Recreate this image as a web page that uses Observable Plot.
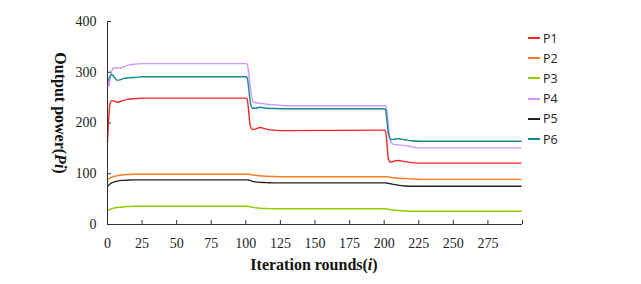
<!DOCTYPE html>
<html>
<head>
<meta charset="utf-8">
<script src="https://cdn.jsdelivr.net/npm/d3@7"></script>
<script src="https://cdn.jsdelivr.net/npm/@observablehq/plot@0.6"></script>
<style>
  html, body { margin: 0; padding: 0; background: #fff; }
  #wrap { position: relative; width: 641px; height: 284px; overflow: hidden; }
  #ylabel { position: absolute; left: 60px; top: 113px; transform: translate(-50%, -50%) rotate(90deg);
    font-family: "Liberation Serif", serif; font-weight: bold; font-size: 16px; white-space: nowrap; color: #111; }
  #xlabel { position: absolute; left: 314px; top: 265px; transform: translate(-50%, -50%);
    font-family: "Liberation Serif", serif; font-weight: bold; font-size: 16px; white-space: nowrap; color: #111; }
  #legend { position: absolute; left: 528px; top: 28px; font-family: "Open Sans", sans-serif; font-size: 12.5px; color: #222; }
  .item { display: flex; align-items: center; height: 20.2px; }
  .sw { width: 12px; height: 2px; margin-right: 3px; }
</style>
</head>
<body>
<div id="wrap">
  <div id="chart"></div>
  <div id="ylabel">Output power(<i>Pi</i>)</div>
  <div id="xlabel">Iteration rounds(<i>i</i>)</div>
  <div id="legend"></div>
</div>
<script>
const seriesNames = ["P1", "P2", "P3", "P4", "P5", "P6"];
const seriesColors = ["#ff2222", "#ff7a1e", "#8fcc00", "#cc99ff", "#222222", "#138a8a"];
const xTicks = [0, 25, 50, 75, 100, 125, 150, 175, 200, 225, 250, 275, 300];
const xTickLabels = [0, 25, 50, 75, 100, 125, 150, 175, 200, 225, 250, 275];
const yTicks = [0, 100, 200, 300, 400];

const iterations = [0, 1, 2, 3, 5, 7, 9, 12, 15, 20, 25,
  100, 101, 102, 103, 104, 105, 107, 110, 115, 120, 130,
  200, 201, 202, 203, 204, 205, 207, 210, 215, 220, 225, 299];

const P1 = [162, 215, 240, 244, 243, 241, 242, 245, 247, 248, 249,
  249, 247, 225, 198, 189, 187, 188, 191, 188, 186, 185,
  186, 184, 160, 130, 124, 123, 125, 126, 124, 122, 121, 121];
const P2 = [88, 90, 92, 93, 95, 96, 97, 98, 98.5, 99, 99,
  99, 99, 99, 98.5, 98, 97.5, 97, 96, 95, 94.5, 94,
  94, 94, 94, 93.5, 93, 92.5, 92, 91, 90.5, 90, 89, 89];
const P3 = [28, 29, 30, 31, 32.5, 33.5, 34, 35, 35.5, 36, 36,
  36, 36, 35.5, 35, 34.5, 34, 33, 32, 31.5, 31, 31,
  31, 31, 30.5, 30, 29.5, 29, 28.5, 27.5, 26.5, 26, 26, 26];
const P4 = [290, 272, 290, 303, 309, 309, 308, 311, 314, 316, 317,
  317, 316, 300, 275, 255, 243, 240, 239, 237, 236, 234,
  234, 234, 225, 195, 172, 162, 158, 157, 155.5, 153, 151, 151];
const P5 = [75, 78, 80, 82, 84, 85.5, 86.5, 87, 87.5, 88, 88,
  88, 88, 87.5, 87, 86, 85, 84, 83, 82.5, 82, 82,
  82, 82, 81.5, 81, 80.5, 80, 79, 77.5, 76, 75.5, 75.5, 75.5];
const P6 = [281, 287, 293, 295.5, 290, 284, 285, 288, 289, 290, 291,
  291, 289, 270, 245, 232, 229, 229, 231, 229, 228.5, 228,
  228, 226, 205, 180, 170, 167.5, 168, 169, 167, 165, 164, 164];

const seriesValues = [P1, P2, P3, P4, P5, P6];
const data = seriesNames.flatMap((name, k) =>
  iterations.map((it, j) => ({ it, v: seriesValues[k][j], s: name })));

const chart = Plot.plot({
  width: 641,
  height: 284,
  marginLeft: 107,
  marginRight: 119,
  marginTop: 21,
  marginBottom: 60,
  style: { fontFamily: "Liberation Serif, serif", fontSize: "14px", color: "#222", background: "white" },
  x: { domain: [0, 300] },
  y: { domain: [0, 400] },
  color: { domain: seriesNames, range: seriesColors },
  marks: [
    Plot.line(data, { x: "it", y: "v", z: "s", stroke: "s", strokeWidth: 1.4, curve: "monotone-x" }),
    Plot.ruleY([0], { stroke: "#333" }),
    Plot.ruleX([0], { stroke: "#333" }),
    Plot.axisX({ ticks: xTicks, tickSize: 4, dy: -4, tickFormat: () => "", label: null, stroke: "#333" }),
    Plot.axisX({ ticks: xTickLabels, tickSize: 0, tickPadding: 14, label: null, fill: "#222", fontSize: 14 }),
    Plot.axisY({ ticks: yTicks, tickSize: 4, dx: 4, tickFormat: () => "", label: null, stroke: "#333" }),
    Plot.axisY({ ticks: yTicks, tickSize: 0, tickPadding: 11, label: null, fill: "#222", fontSize: 14 })
  ]
});
document.getElementById("chart").appendChild(chart);

const legend = document.getElementById("legend");
seriesNames.forEach((name, k) => {
  const item = document.createElement("div");
  item.className = "item";
  const sw = document.createElement("div");
  sw.className = "sw";
  sw.style.background = seriesColors[k];
  const label = document.createElement("span");
  label.textContent = name;
  item.appendChild(sw);
  item.appendChild(label);
  legend.appendChild(item);
});
</script>
</body>
</html>
